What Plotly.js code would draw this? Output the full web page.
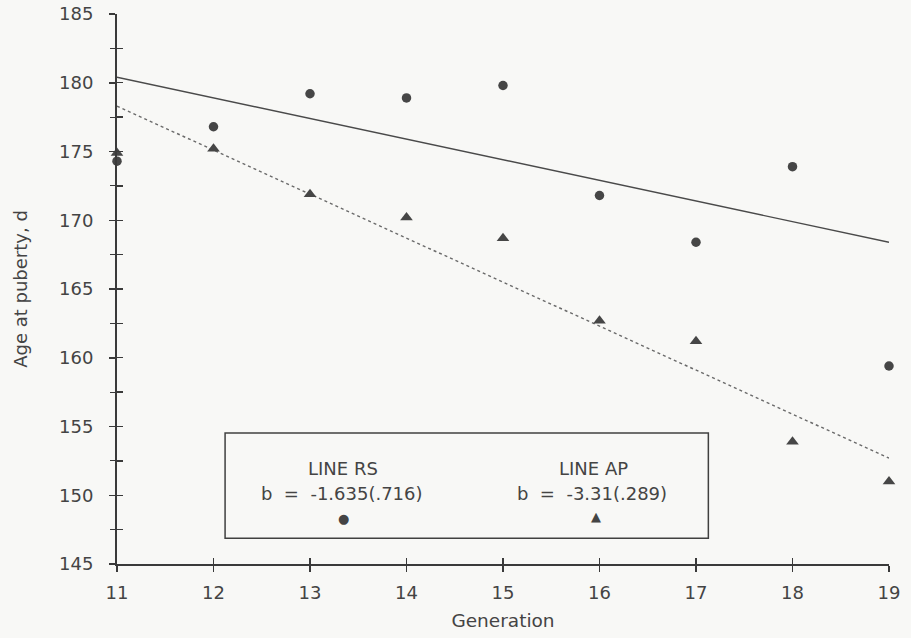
<!DOCTYPE html>
<html>
<head>
<meta charset="utf-8">
<script src="https://cdn.plot.ly/plotly-3.0.1.min.js"></script>
<style>html,body{margin:0;padding:0;background:#f8f8f6;}#chart{width:911px;height:638px;}</style>
</head>
<body>
<div id="chart"></div>
<script>
// Data
var generations = [11, 12, 13, 14, 15, 16, 17, 18, 19];
var lineRS = [174.3, 176.8, 179.2, 178.9, 179.8, 171.8, 168.4, 173.9, 159.4];
var lineAP = [174.9, 175.2, 171.9, 170.2, 168.7, 162.7, 161.2, 153.9, 151.0];
var fitX = [11, 19];
var fitRS = [180.4, 168.4];
var fitAP = [178.3, 152.7];
var yTicks = [145, 150, 155, 160, 165, 170, 175, 180, 185];
var xTicks = [11, 12, 13, 14, 15, 16, 17, 18, 19];

var ink = '#444444';
var fontFam = '"DejaVu Sans", "Liberation Sans", Arial, sans-serif';

var traces = [
  {x: fitX, y: fitRS, mode: 'lines', line: {color: '#4a4a4a', width: 1.4}, showlegend: false, hoverinfo: 'skip'},
  {x: fitX, y: fitAP, mode: 'lines', line: {color: '#6a6a6a', width: 1.4, dash: 'dot'}, showlegend: false, hoverinfo: 'skip'},
  {x: generations, y: lineRS, mode: 'markers', name: 'LINE RS', marker: {symbol: 'circle', size: 9.5, color: '#464646'}, cliponaxis: false, showlegend: false},
  {x: generations, y: lineAP, mode: 'markers', name: 'LINE AP', marker: {symbol: 'triangle-up', size: 11, color: '#464646'}, cliponaxis: false, showlegend: false},
  // invisible trace to carry the crossing tick marks on overlay axes
  {x: [11], y: [145], xaxis: 'x2', yaxis: 'y2', mode: 'markers', marker: {opacity: 0}, showlegend: false, hoverinfo: 'skip'}
];

function note(x, y, text, size) {
  return {xref: 'paper', yref: 'paper', x: x, y: y, xanchor: 'center', yanchor: 'middle',
          text: text, showarrow: false, font: {size: size, color: ink}};
}

var layout = {
  width: 911, height: 638,
  paper_bgcolor: '#f8f8f6', plot_bgcolor: 'rgba(0,0,0,0)',
  margin: {l: 117, r: 22, t: 14, b: 74},
  font: {family: fontFam, color: ink},
  showlegend: false,
  xaxis: {
    range: [11, 19], tickvals: xTicks, ticktext: xTicks.map(String),
    showgrid: false, zeroline: false, showline: true, linecolor: '#3a3a3a', linewidth: 2,
    ticks: 'outside', ticklen: 6, tickwidth: 1.5, tickcolor: '#3a3a3a',
    tickfont: {size: 18, color: ink}, ticklabelstandoff: 5,
    title: {text: 'Generation', font: {size: 18.5, color: ink}, standoff: 12}
  },
  yaxis: {
    range: [145, 185], tickvals: yTicks, ticktext: yTicks.map(String),
    showgrid: false, zeroline: false, showline: true, linecolor: '#3a3a3a', linewidth: 2,
    ticks: 'outside', ticklen: 6, tickwidth: 1.5, tickcolor: '#3a3a3a',
    minor: {dtick: 2.5, tick0: 145, ticks: 'outside', ticklen: 5, tickwidth: 1.2, tickcolor: '#3a3a3a'},
    tickfont: {size: 18, color: ink}, ticklabelstandoff: 12,
    title: {text: 'Age at puberty, d', font: {size: 18, color: ink}, standoff: 27}
  },
  xaxis2: {overlaying: 'x', matches: 'x', anchor: 'y2', range: [11, 19], tickvals: xTicks, showticklabels: false,
    ticks: 'inside', ticklen: 6, tickwidth: 1.5, tickcolor: '#3a3a3a', showgrid: false, zeroline: false, showline: false},
  yaxis2: {overlaying: 'y', matches: 'y', anchor: 'x2', range: [145, 185], dtick: 2.5, tick0: 145, showticklabels: false,
    ticks: 'inside', ticklen: 6, tickwidth: 1.3, tickcolor: '#3a3a3a', showgrid: false, zeroline: false, showline: false},
  shapes: [
    {type: 'rect', xref: 'paper', yref: 'paper', x0: 0.140, x1: 0.766, y0: 0.047, y1: 0.238,
     line: {color: '#404040', width: 1.5}, fillcolor: 'rgba(0,0,0,0)'}
  ],
  annotations: [
    note(0.293, 0.174, 'LINE RS', 18),
    note(0.292, 0.128, 'b  =  -1.635(.716)', 18),
    note(0.293, 0.082, '●', 13),
    note(0.617, 0.174, 'LINE AP', 18),
    note(0.615, 0.128, 'b  =  -3.31(.289)', 18),
    note(0.620, 0.087, '▲', 13)
  ]
};

Plotly.newPlot('chart', traces, layout, {displayModeBar: false, staticPlot: true});
</script>
</body>
</html>
